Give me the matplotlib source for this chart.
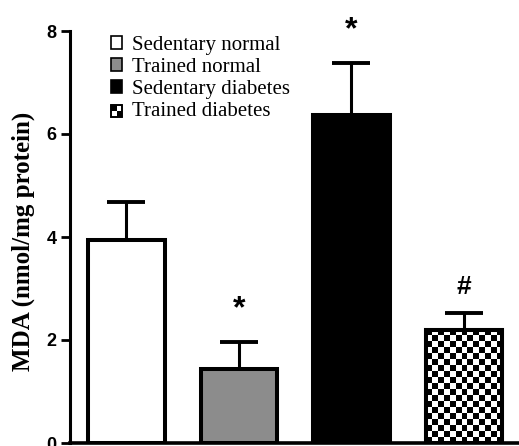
import numpy as np
import matplotlib
matplotlib.use("Agg")
import matplotlib.pyplot as plt
from matplotlib.patches import Patch, Rectangle
from matplotlib.legend_handler import HandlerBase

groups = ["Sedentary normal", "Trained normal", "Sedentary diabetes", "Trained diabetes"]
mda = [3.94, 1.44, 6.37, 2.20]
sem = [0.73, 0.52, 1.01, 0.32]
marks = ["", "*", "*", "#"]
colors = ["white", "#8c8c8c", "black", "white"]


class CheckerHandler(HandlerBase):
    def create_artists(self, legend, orig, x0, y0, w, h, fontsize, trans):
        s = min(w, h)
        arts = [Rectangle((x0, y0), s, s, facecolor="white", edgecolor="black", lw=1.2, transform=trans)]
        arts.append(Rectangle((x0, y0 + s / 2), s / 2, s / 2, facecolor="black", lw=0, transform=trans))
        arts.append(Rectangle((x0 + s / 2, y0), s / 2, s / 2, facecolor="black", lw=0, transform=trans))
        arts.append(Rectangle((x0, y0), s, s, facecolor="none", edgecolor="black", lw=1.2, transform=trans))
        return arts


fig = plt.figure(figsize=(5.19, 4.46), dpi=100)
ax = fig.add_axes([70 / 519, 3 / 446, 449 / 519, 412 / 446])

x = np.arange(len(groups))
bars = ax.bar(x, mda, width=0.68, color=colors, edgecolor="black", linewidth=2.9, zorder=3)
ax.errorbar(x, mda, yerr=[np.zeros(len(sem)), sem], fmt="none", ecolor="black",
            elinewidth=2.2, capsize=14, capthick=2.8, zorder=2)

# checkerboard fill for trained diabetes
b = bars[3]
bx0, bw, bh = b.get_x(), b.get_width(), b.get_height()
ncol = 13
nrow = int(round(bh / (6 / 51.5)))
chk = (np.indices((nrow, ncol)).sum(axis=0) % 2).astype(float)
im = ax.imshow(chk, cmap="gray", extent=(bx0, bx0 + bw, 0, bh), aspect="auto",
               interpolation="nearest", zorder=3.5)
im.set_clip_path(b)
ax.add_patch(Rectangle((bx0, 0), bw, bh, facecolor="none", edgecolor="black", lw=2.9, zorder=4))

for xi, m, s, lab in zip(x, mda, sem, marks):
    if lab:
        ax.annotate(lab, (xi, m + s), xytext=(0, 13 if lab == "*" else 10), textcoords="offset points",
                    ha="center", va="bottom", fontsize=23 if lab == "*" else 19, fontweight="bold",
                    family="Liberation Sans")

ax.set_xlim(-0.5, 3.49)
ax.set_ylim(0, 8)
ax.set_yticks([0, 2, 4, 6, 8])
ax.set_xticks([])
ax.spines["top"].set_visible(False)
ax.spines["right"].set_visible(False)
ax.spines["left"].set_linewidth(2.2)
ax.spines["bottom"].set_linewidth(2.6)
ax.tick_params(axis="y", length=6.5, width=2, pad=3, labelsize=13)
for t in ax.get_yticklabels():
    t.set_fontweight("bold")
    t.set_family("Liberation Sans")
ax.set_ylabel("MDA (nmol/mg protein)", fontsize=18, fontweight="bold", family="Liberation Serif")
ax.yaxis.set_label_coords(-0.078, 0.49)

handles = [Patch(facecolor=c, edgecolor="black", lw=1.2) for c in colors]
leg = ax.legend(handles, groups, loc="upper left", bbox_to_anchor=(111 / 519, 1 - 36 / 446),
                bbox_transform=fig.transFigure, frameon=False,
                prop={"family": "Liberation Serif", "size": 15},
                handlelength=0.55, handleheight=0.55, handletextpad=0.45, labelspacing=0.14,
                borderpad=0, borderaxespad=0,
                handler_map={handles[3]: CheckerHandler()})

fig.savefig("out.png", dpi=100)
